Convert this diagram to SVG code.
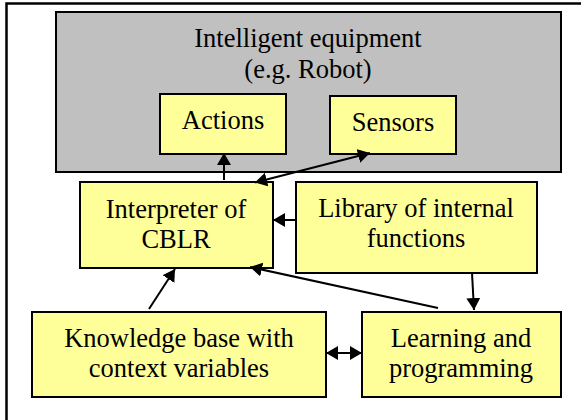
<svg xmlns="http://www.w3.org/2000/svg" width="581" height="420" viewBox="0 0 581 420">
<defs>
<marker id="ah" viewBox="0 0 12 14" refX="12" refY="7" markerWidth="12" markerHeight="14" markerUnits="userSpaceOnUse" orient="auto-start-reverse">
<path d="M0,0 L12,7 L0,14 Z" fill="#000"/>
</marker>
<style>
.box{fill:#FFFF99;stroke:#000;stroke-width:2}
.grey{fill:#C0C0C0;stroke:#000;stroke-width:2}
.t{font-family:"Liberation Serif","Times New Roman",serif;font-size:26.5px;fill:#000;text-anchor:middle}
.c line{stroke:#000;stroke-width:2}
</style>
</defs>
<rect x="0" y="0" width="581" height="420" fill="#fff"/>
<rect x="6.5" y="3.5" width="600" height="500" fill="none" stroke="#000" stroke-width="2.5"/>
<g id="equipment">
<rect class="grey" x="56" y="12" width="505" height="160"/>
<text class="t" x="308" y="47">Intelligent equipment</text>
<text class="t" x="308" y="78">(e.g. Robot)</text>
</g>
<g id="actions">
<rect class="box" x="160" y="94" width="126" height="60"/>
<text class="t" x="223" y="129">Actions</text>
</g>
<g id="sensors">
<rect class="box" x="330" y="96" width="126" height="58"/>
<text class="t" x="393" y="131">Sensors</text>
</g>
<g id="interpreter">
<rect class="box" x="80" y="182" width="193" height="86"/>
<text class="t" x="176" y="218">Interpreter of</text>
<text class="t" x="176" y="248">CBLR</text>
</g>
<g id="library">
<rect class="box" x="296" y="182" width="241" height="91"/>
<text class="t" x="416" y="217">Library of internal</text>
<text class="t" x="416" y="247">functions</text>
</g>
<g id="knowledge">
<rect class="box" x="32" y="312" width="294" height="85"/>
<text class="t" x="179" y="347">Knowledge base with</text>
<text class="t" x="179" y="377">context variables</text>
</g>
<g id="learning">
<rect class="box" x="362" y="312" width="199" height="85"/>
<text class="t" x="461" y="347">Learning and</text>
<text class="t" x="461" y="377">programming</text>
</g>
<g class="c" id="connectors">
<line x1="224" y1="180" x2="224" y2="153" marker-end="url(#ah)"/>
<line x1="255" y1="182.5" x2="370" y2="153" marker-start="url(#ah)" marker-end="url(#ah)"/>
<line x1="296" y1="220" x2="273" y2="220" marker-end="url(#ah)"/>
<line x1="149" y1="309" x2="175" y2="269" marker-end="url(#ah)"/>
<line x1="438" y1="308" x2="250" y2="267" marker-end="url(#ah)"/>
<line x1="472" y1="273" x2="474" y2="310" marker-end="url(#ah)"/>
<line x1="326" y1="353" x2="362" y2="353" marker-start="url(#ah)" marker-end="url(#ah)"/>
</g>
</svg>
